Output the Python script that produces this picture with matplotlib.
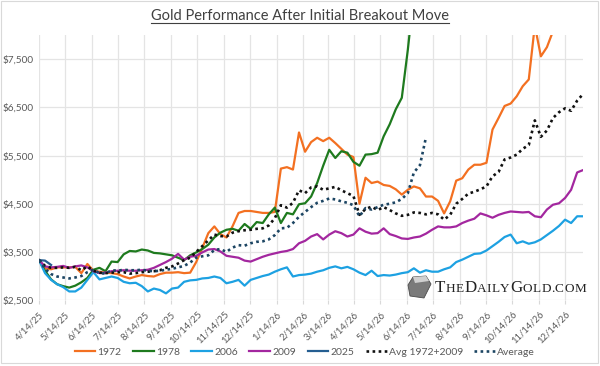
import matplotlib; matplotlib.use('Agg')
import matplotlib.pyplot as plt
import numpy as np
import pandas as pd
from matplotlib.lines import Line2D
from matplotlib.patches import Rectangle, Polygon
from matplotlib.ticker import StrMethodFormatter

# weekly closes, normalised to the 4/14/25 start
start = pd.Timestamp('2025-04-14')

gold_1972 = [3330, 3160, 3140, 3180, 3180, 3180, 3190, 3060, 3250, 3110,
             3090, 3070, 3060, 3040, 2990, 2950, 2990, 3020, 3000, 2990,
             3040, 3070, 3070, 3080, 3060, 3070, 3290, 3580, 3890, 4030,
             3870, 3800, 4030, 4310, 4350, 4350, 4330, 4310, 4310, 4330,
             5230, 5260, 5210, 5980, 5580, 5780, 5870, 5800, 5870, 5760,
             5640, 5520, 5470, 4500, 5040, 4930, 4960, 4890, 4870, 4800,
             4690, 4790, 4860, 4820, 4650, 4650, 4560, 4300, 4550, 4980,
             5030, 5210, 5310, 5310, 5350, 6040, 6280, 6530, 6580, 6730,
             6940, 7080, 8200, 7560, 7750, 8080, 8330, 8360, 8110, 8170, 8340]

gold_1978 = [3330, 3110, 2930, 2830, 2790, 2760, 2800, 2870, 2960, 3130,
             3170, 3100, 3300, 3290, 3450, 3520, 3510, 3550, 3530, 3480,
             3470, 3450, 3430, 3380, 3330, 3430, 3490, 3560, 3650, 3800,
             3900, 3960, 3980, 3940, 4080, 3980, 4120, 4100, 4280, 4420,
             4100, 4310, 4280, 4490, 4510, 4650, 4930, 5290, 5620, 5450,
             5590, 5560, 5370, 5290, 5520, 5530, 5560, 5900, 6150, 6460,
             6700, 7700, 8860]

gold_2006 = [3330, 3060, 2920, 2830, 2770, 2680, 2680, 2760, 2920, 3080,
             2930, 2960, 2990, 2960, 2880, 2850, 2860, 2790, 2680, 2740,
             2710, 2640, 2740, 2760, 2880, 2910, 2920, 2950, 2960, 2990,
             2960, 2850, 2880, 2920, 2800, 2920, 2960, 3000, 3030, 3090,
             3140, 3180, 2990, 3020, 3030, 3050, 3090, 3120, 3170, 3200,
             3160, 3190, 3140, 3070, 3020, 3110, 3000, 3020, 3010, 3030,
             3060, 3080, 3160, 3070, 3120, 3090, 3090, 3140, 3180, 3290,
             3340, 3400, 3460, 3470, 3530, 3620, 3710, 3810, 3860, 3680,
             3720, 3670, 3700, 3760, 3850, 3940, 4040, 4170, 4100, 4240, 4240]

gold_2009 = [3330, 3200, 3180, 3190, 3210, 3170, 3200, 3220, 3180, 3100,
             3060, 3070, 3100, 3110, 3120, 3110, 3110, 3120, 3130, 3170,
             3230, 3290, 3360, 3460, 3340, 3400, 3420, 3490, 3550, 3560,
             3510, 3420, 3400, 3380, 3320, 3300, 3350, 3400, 3440, 3470,
             3500, 3520, 3560, 3680, 3730, 3820, 3870, 3760, 3860, 3930,
             3890, 3820, 3860, 3990, 3920, 3880, 3890, 3990, 3870, 3830,
             3780, 3770, 3800, 3820, 3880, 3960, 4030, 4010, 4010, 4030,
             4100, 4150, 4190, 4300, 4260, 4210, 4270, 4310, 4340, 4330,
             4320, 4330, 4240, 4220, 4380, 4480, 4510, 4620, 4790, 5150, 5200]

gold_2025 = [3330, 3320, 3230]

avg_72_09 = [3330, 3210, 3170, 3170, 3180, 3170, 3190, 3120, 3200, 3110,
             3070, 3060, 3070, 3080, 3080, 3050, 3060, 3080, 3090, 3100,
             3120, 3170, 3200, 3260, 3330, 3380, 3500, 3620, 3740, 3860,
             3830, 3820, 3900, 3930, 3950, 3960, 3980, 3990, 4050, 4200,
             4470, 4420, 4520, 4780, 4720, 4840, 4860, 4790, 4820, 4850,
             4780, 4720, 4660, 4270, 4390, 4440, 4370, 4430, 4370, 4300,
             4250, 4270, 4320, 4310, 4280, 4310, 4280, 4170, 4270, 4500,
             4600, 4710, 4750, 4800, 4860, 5070, 5160, 5420, 5460, 5520,
             5640, 5720, 6230, 5890, 6020, 6280, 6400, 6480, 6430, 6640, 6780]

avg_all = [3330, 3150, 3040, 2990, 2970, 2950, 2970, 3000, 3080, 3130,
           3060, 3050, 3120, 3110, 3130, 3120, 3120, 3130, 3110, 3100,
           3110, 3130, 3150, 3180, 3210, 3280, 3380, 3410, 3430, 3540,
           3560, 3500, 3590, 3640, 3630, 3680, 3710, 3720, 3760, 3850,
           3990, 4000, 4100, 4230, 4330, 4430, 4520, 4560, 4610, 4590,
           4550, 4520, 4470, 4240, 4410, 4380, 4430, 4480, 4500, 4530,
           4600, 4720, 5150, 5300, 5880]

tick_dates = pd.date_range('2025-04-14', periods=21, freq=pd.DateOffset(months=1))
tick_labels = [f'{d.month}/{d.day}/{d:%y}' for d in tick_dates]
y_ticks = [2500, 3500, 4500, 5500, 6500, 7500]

def wk(vals):
    return start + pd.to_timedelta(7 * np.arange(len(vals)), unit='D')

plt.rcParams['font.family'] = ['Lato', 'DejaVu Sans']

fig = plt.figure(figsize=(6, 3.66), dpi=100)
ax = fig.add_axes([0.065, 0.180, 0.907, 0.724])

solid = [('1972', gold_1972, '#F37021'),
         ('1978', gold_1978, '#1E7A1E'),
         ('2006', gold_2006, '#1DA1E2'),
         ('2009', gold_2009, '#A3279F'),
         ('2025', gold_2025, '#255E91')]
for name, vals, c in solid:
    ax.plot(wk(vals), vals, color=c, lw=1.6, label=name, zorder=3,
            solid_joinstyle='round')
ax.plot(wk(avg_72_09), avg_72_09, color='#111111', lw=1.9,
        linestyle=(0, (1, 1.3)), label='Avg 1972+2009', zorder=4)
ax.plot(wk(avg_all), avg_all, color='#1C4563', lw=1.9,
        linestyle=(0, (1, 1.3)), label='Average', zorder=4)

ax.set_xlim(start, wk(gold_2009)[-1])
ax.set_ylim(2500, 8000)
ax.set_yticks(y_ticks)
ax.yaxis.set_major_formatter(StrMethodFormatter('${x:,.0f}'))
ax.set_xticks(tick_dates)
ax.set_xticklabels(tick_labels, rotation=45, ha='right', rotation_mode='anchor')
ax.tick_params(axis='x', labelsize=6.8, colors='#595959', length=3,
               color='#D9D9D9', pad=4)
ax.tick_params(axis='y', labelsize=7.2, colors='#595959', length=0, pad=4)
ax.grid(True, color='#E4E4E4', lw=0.9, zorder=0)
ax.spines[['top', 'right', 'left', 'bottom']].set_visible(False)

fig.legend(loc='center', bbox_to_anchor=(0.508, 0.038), ncol=7, frameon=False,
           fontsize=7.5, handlelength=2.0, handletextpad=0.2, columnspacing=1.1,
           labelcolor='#595959')

# chart border
fig.add_artist(Rectangle((0.002, 0.008), 0.995, 0.988, transform=fig.transFigure,
                         fill=False, edgecolor='#D9D9D9', lw=0.8))

# underlined title
title = fig.text(0.5, 0.955, 'Gold Performance After Initial Breakout Move',
                 ha='center', va='center', fontsize=10.5, color='#404040')
fig.canvas.draw()
r = fig.canvas.get_renderer()
bb = title.get_window_extent(r)
W, H = fig.bbox.width, fig.bbox.height
uy = (bb.y0 + 0.5) / H
fig.add_artist(Line2D([bb.x0 / W, bb.x1 / W], [uy, uy], color='#404040', lw=0.8))

# watermark
fig.add_artist(Polygon([[410/W, 1-296/H], [424/W, 1-298/H], [431/W, 1-284/H],
                        [426/W, 1-276/H], [413/W, 1-277/H], [408/W, 1-285/H]],
                       closed=True, facecolor='#7A7A7A', edgecolor='#4A4A4A', lw=0.6))
fig.add_artist(Polygon([[413/W, 1-277/H], [426/W, 1-276/H], [429/W, 1-281/H],
                        [415/W, 1-283/H]], closed=True, facecolor='#D0D0D0',
                       edgecolor='none'))
x = 435
for piece, size in [('T', 12.2), ('HE', 9.5), ('D', 12.2), ('AILY', 9.5),
                    ('G', 12.2), ('OLD.COM', 9.5)]:
    for ch in piece:
        t = fig.text(x / W, 1 - 292 / H, ch, fontsize=size, color='#222222',
                     family='Liberation Serif', ha='left', va='baseline')
        x += t.get_window_extent(r).width + 0.4

fig.savefig('out.png', dpi=100, facecolor='white')
